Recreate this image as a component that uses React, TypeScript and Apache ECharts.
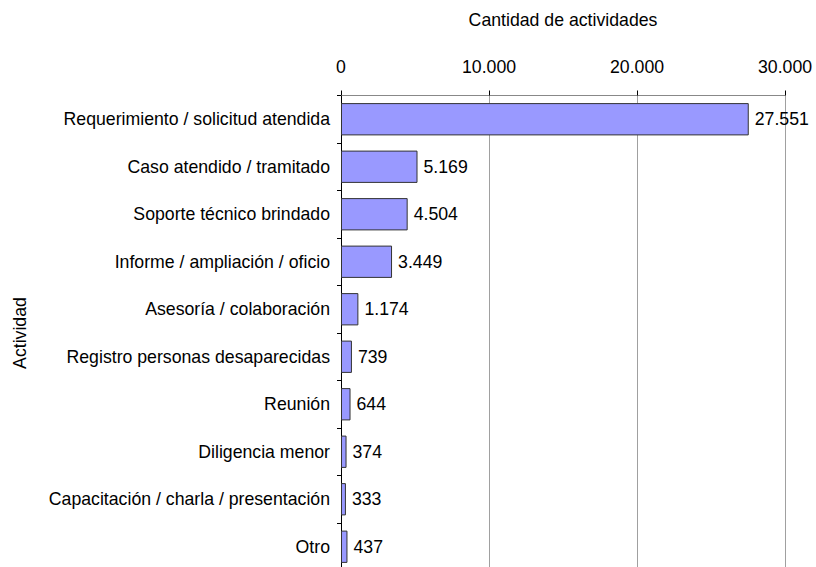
import React, { useEffect, useRef } from "react";
import * as echarts from "echarts";

const categories = [
  "Requerimiento / solicitud atendida",
  "Caso atendido / tramitado",
  "Soporte técnico brindado",
  "Informe / ampliación / oficio",
  "Asesoría / colaboración",
  "Registro personas desaparecidas",
  "Reunión",
  "Diligencia menor",
  "Capacitación / charla / presentación",
  "Otro",
];
const values = [27551, 5169, 4504, 3449, 1174, 739, 644, 374, 333, 437];
const xTicks = [0, 10000, 20000, 30000];

const fmt = (v: number) => String(Math.round(v)).replace(/\B(?=(\d{3})+(?!\d))/g, ".");

const FONT = "'Liberation Sans', Arial, sans-serif";
const FS = 17.7;

export default function App() {
  const ref = useRef<HTMLDivElement>(null);
  useEffect(() => {
    if (!ref.current) return;
    const chart = echarts.init(ref.current, null, { renderer: "svg" });
    chart.setOption({
      animation: false,
      backgroundColor: "#ffffff",
      textStyle: { fontFamily: FONT },
      grid: { left: 341, right: 31, top: 95.5, bottom: 9.5, containLabel: false },
      xAxis: {
        type: "value",
        position: "top",
        min: xTicks[0],
        max: xTicks[xTicks.length - 1],
        interval: 10000,
        name: "Cantidad de actividades",
        nameLocation: "middle",
        nameGap: 67,
        nameTextStyle: { fontFamily: FONT, fontSize: FS, color: "#000" },
        axisLine: { show: true, lineStyle: { color: "#888888", width: 1 } },
        axisTick: { show: true, length: 5, lineStyle: { color: "#000000" } },
        axisLabel: {
          fontFamily: FONT,
          fontSize: FS,
          color: "#000",
          margin: 20,
          formatter: (v: number) => fmt(v),
        },
        splitLine: { show: true, lineStyle: { color: "#a0a0a0", width: 1 } },
      },
      yAxis: {
        type: "category",
        inverse: true,
        data: categories,
        name: "Actividad",
        nameLocation: "middle",
        nameGap: 312,
        nameRotate: 90,
        nameTextStyle: { fontFamily: FONT, fontSize: FS, color: "#000" },
        axisLine: { show: true, lineStyle: { color: "#000000", width: 1 } },
        axisTick: { show: true, length: 4, lineStyle: { color: "#000000" } },
        axisLabel: { fontFamily: FONT, fontSize: FS, color: "#000", margin: 11 },
        splitLine: { show: false },
      },
      series: [
        {
          type: "bar",
          data: values,
          barCategoryGap: "32%",
          itemStyle: { color: "#9999ff", borderColor: "#333333", borderWidth: 1 },
          label: {
            show: true,
            position: "right",
            distance: 6,
            fontFamily: FONT,
            fontSize: FS,
            color: "#000",
            formatter: (p: any) => fmt(p.value),
          },
        },
      ],
    });
    return () => chart.dispose();
  }, []);
  return (
    <div
      style={{
        position: "fixed",
        left: 0,
        top: 0,
        width: 816,
        height: 567,
        overflow: "hidden",
        background: "#fff",
      }}
    >
      <div ref={ref} style={{ width: 816, height: 580 }} />
    </div>
  );
}
